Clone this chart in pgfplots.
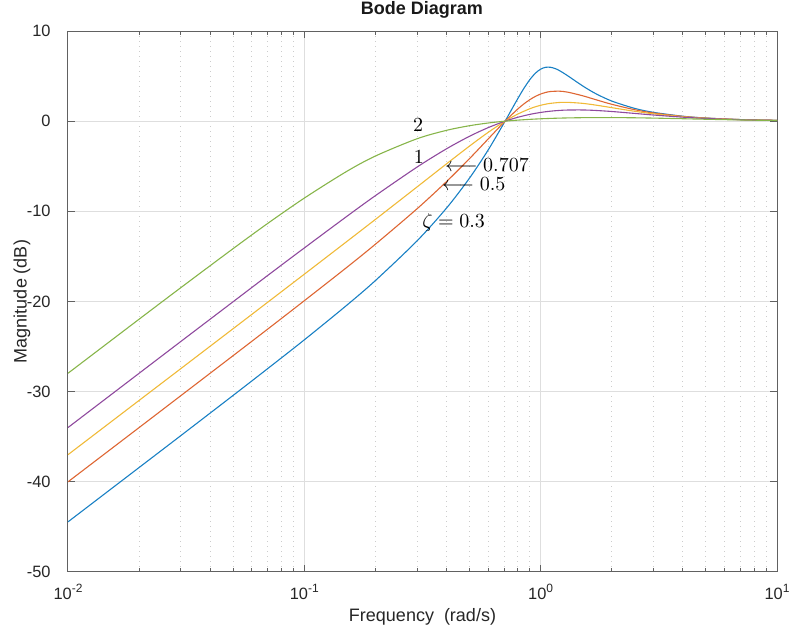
\documentclass[border=0pt]{standalone}
\usepackage{fontspec}
\setmainfont{Liberation Sans}
\usepackage{pgfplots}
\pgfplotsset{compat=1.18}

% MATLAB default line colours, softened a little for thin lines
\definecolor{mblue}{rgb}{0.10,0.50,0.77}
\definecolor{mred}{rgb}{0.87,0.40,0.20}
\definecolor{myellow}{rgb}{0.94,0.73,0.22}
\definecolor{mpurple}{rgb}{0.56,0.29,0.62}
\definecolor{mgreen}{rgb}{0.53,0.71,0.29}
\definecolor{axgray}{gray}{0.38}
\definecolor{gridgray}{gray}{0.87}

\newcommand{\ticksize}{\fontsize{8.2}{9.5}\selectfont}
\newcommand{\sexp}[1]{10\raisebox{0.48em}{\fontsize{6}{7}\selectfont #1}}

\begin{document}
\begin{tikzpicture}
\useasboundingbox (0,0) rectangle (395.5pt,315pt);
\begin{axis}[
  at={(34pt,29pt)}, anchor=south west,
  width=354.5pt, height=270.5pt, scale only axis,
  xmode=log, xmin=0.01, xmax=10, ymin=-50, ymax=10,
  xtick={0.01,0.1,1,10},
  xticklabels={\sexp{-2},\sexp{-1},\sexp{0},\sexp{1}},
  ytick={-50,-40,-30,-20,-10,0,10},
  yticklabels={-50,-40,-30,-20,-10,0,10},
  minor y tick num=0,
  xmajorgrids=true, ymajorgrids=true, xminorgrids=true,
  major grid style={color=gridgray, line width=0.5pt},
  minor grid style={color=gray!40, line width=0.5pt, dotted},
  axis line style={color=axgray, line width=0.5pt},
  tick style={color=axgray, line width=0.5pt},
  major tick length=3.5pt, minor tick length=2pt,
  tick align=inside,
  xticklabel style={font=\ticksize, color=black!85, anchor=base, inner sep=0pt, yshift=-14pt},
  yticklabel style={font=\ticksize, color=black!85, anchor=east, inner sep=0pt, xshift=-8.5pt},
  xlabel={Frequency\ \ (rad/s)},
  ylabel={Magnitude (dB)},
  xlabel style={font=\fontsize{9}{11}\selectfont, color=black!85, at={(axis description cs:0.5,-0.0924)}, anchor=base},
  ylabel style={font=\fontsize{9}{11}\selectfont, color=black!85, at={(axis description cs:-0.065,0.5)}, anchor=center},
  every axis plot/.append style={line width=0.55pt, smooth},
  clip=true,
]
% zeta = 0.3
\addplot[mblue] coordinates {
(0.01,-44.44) (0.02,-38.41) (0.03,-34.88) (0.05,-30.41) (0.07,-27.44)
(0.1,-24.25) (0.15,-20.49) (0.2,-17.67) (0.3,-13.27) (0.4,-9.625)
(0.5,-6.313) (0.6,-3.181) (0.7071,0) (0.75,1.197) (0.8,2.499)
(0.85,3.655) (0.9,4.612) (0.95,5.324) (1.0,5.772) (1.05,5.974)
(1.1,5.977) (1.15,5.838) (1.2,5.612) (1.3,5.044) (1.5,3.936)
(1.7,3.089) (2,2.228) (2.5,1.417) (3,0.979) (4,0.547)
(5,0.349) (7,0.178) (10,0.087)};
% zeta = 0.5
\addplot[mred] coordinates {
(0.01,-40.00) (0.02,-33.98) (0.03,-30.45) (0.05,-26.00) (0.07,-23.06)
(0.1,-19.91) (0.15,-16.29) (0.2,-13.64) (0.3,-9.712) (0.4,-6.687)
(0.5,-4.150) (0.6,-1.964) (0.7071,0) (0.8,1.348) (0.85,1.922)
(0.9,2.387) (0.95,2.748) (1.0,3.010) (1.05,3.186) (1.1,3.288)
(1.2,3.326) (1.3,3.220) (1.5,2.829) (1.7,2.405) (2,1.871)
(2.5,1.271) (3,0.909) (4,0.526) (5,0.340) (7,0.175) (10,0.086)};
% zeta = 0.707
\addplot[myellow] coordinates {
(0.01,-36.99) (0.02,-30.97) (0.03,-27.45) (0.05,-23.01) (0.07,-20.08)
(0.1,-16.97) (0.15,-13.42) (0.2,-10.89) (0.3,-7.291) (0.4,-4.724)
(0.5,-2.762) (0.6,-1.237) (0.7071,0) (0.8,0.787) (0.9,1.381)
(0.95,1.595) (1.0,1.761) (1.05,1.886) (1.1,1.976) (1.2,2.073)
(1.3,2.088) (1.5,1.979) (1.7,1.793) (2,1.498) (2.5,1.096)
(3,0.818) (4,0.495) (5,0.327) (7,0.172) (10,0.086)};
% zeta = 1
\addplot[mpurple] coordinates {
(0.01,-33.98) (0.02,-27.96) (0.03,-24.44) (0.05,-20.02) (0.07,-17.11)
(0.1,-14.06) (0.15,-10.63) (0.2,-8.256) (0.3,-5.089) (0.4,-3.057)
(0.5,-1.675) (0.6,-0.713) (0.7071,0) (0.8,0.430) (0.9,0.753)
(1.0,0.969) (1.1,1.108) (1.2,1.192) (1.3,1.235) (1.5,1.243)
(1.7,1.192) (2,1.072) (2.5,0.859) (3,0.682) (4,0.443)
(5,0.304) (7,0.165) (10,0.084)};
% zeta = 2
\addplot[mgreen] coordinates {
(0.01,-27.96) (0.02,-21.96) (0.03,-18.47) (0.05,-14.13) (0.07,-11.34)
(0.1,-8.53) (0.15,-5.62) (0.2,-3.863) (0.3,-1.949) (0.4,-1.014)
(0.5,-0.504) (0.6,-0.202) (0.7071,0) (0.8,0.116) (0.9,0.202)
(1.0,0.263) (1.1,0.307) (1.2,0.338) (1.3,0.360) (1.5,0.387)
(1.7,0.398) (2,0.398) (2.5,0.375) (3,0.341) (4,0.271)
(5,0.213) (7,0.134) (10,0.075)};

% damping-ratio annotations
\node[anchor=base, inner sep=0pt, font=\fontsize{10}{12}\selectfont] at (axis cs:0.303,-1.20) {$2$};
\node[anchor=base, inner sep=0pt, font=\fontsize{10}{12}\selectfont] at (axis cs:0.3055,-4.75) {$1$};
\node[anchor=base west, inner sep=0pt, font=\fontsize{10}{12}\selectfont] at (axis cs:0.394,-5.53) {$\longleftarrow 0.707$};
\node[anchor=base west, inner sep=0pt, font=\fontsize{10}{12}\selectfont] at (axis cs:0.381,-7.74) {$\longleftarrow 0.5$};
\node[anchor=base west, inner sep=0pt, font=\fontsize{10}{12}\selectfont] at (axis cs:0.3148,-11.74) {$\zeta = 0.3$};
\end{axis}
% plot title
\node[anchor=base, inner sep=0pt, font=\fontsize{9}{11}\selectfont\bfseries, text=black!90] at (211pt,307.5pt) {Bode Diagram};
\end{tikzpicture}
\end{document}
